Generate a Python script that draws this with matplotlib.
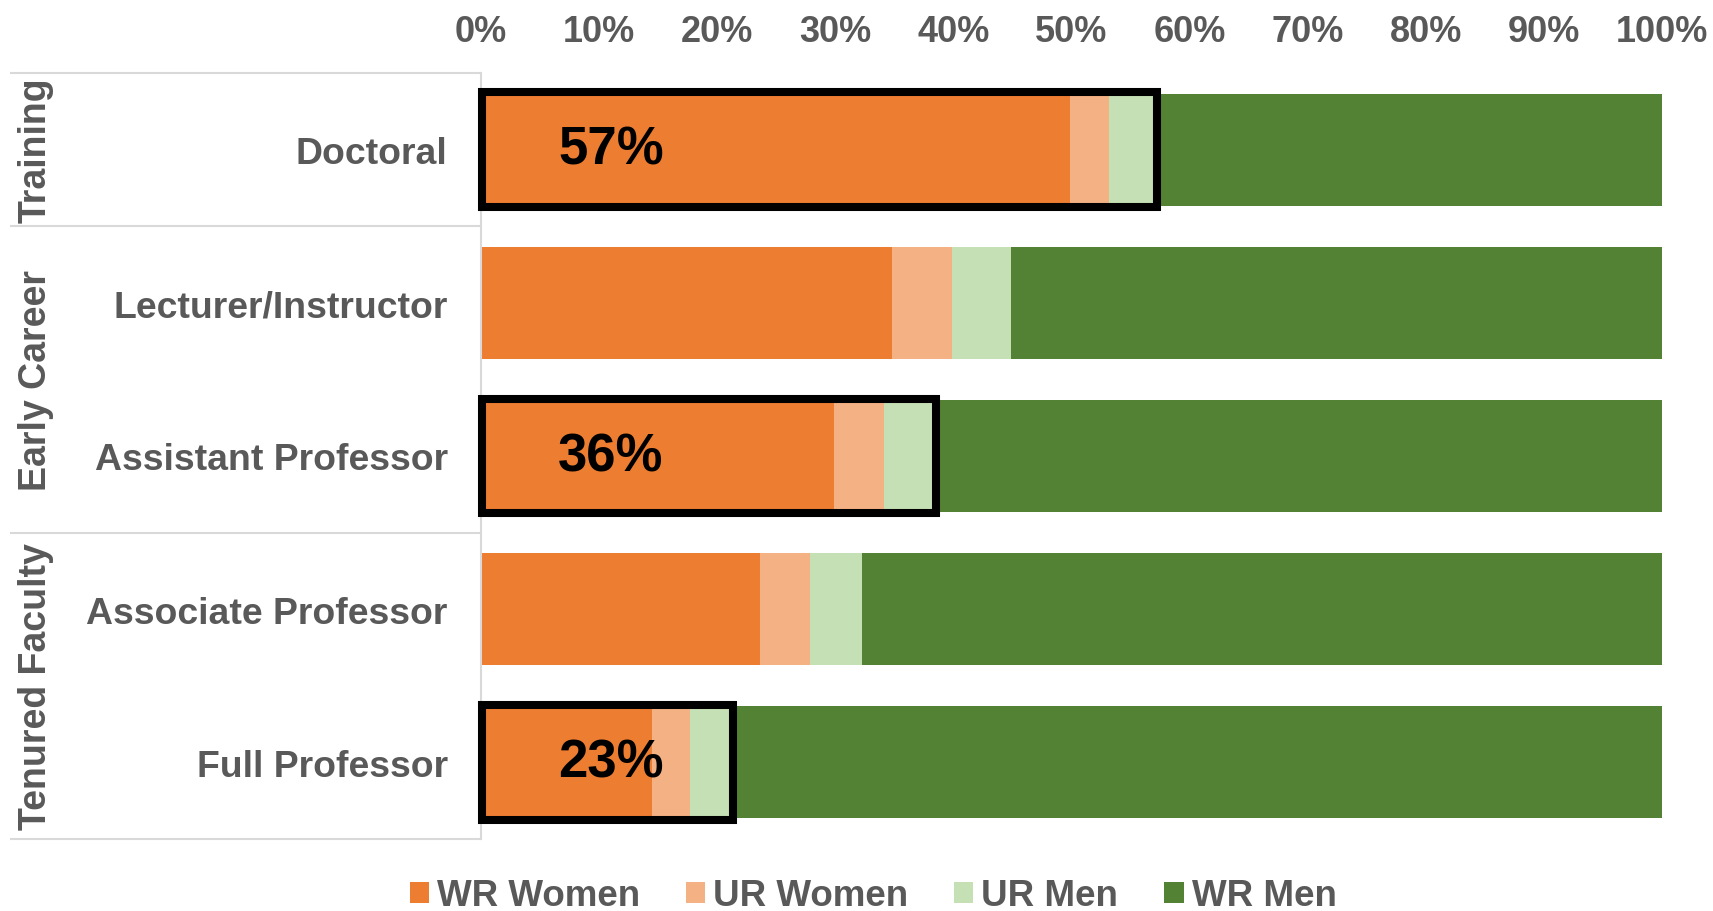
import matplotlib
matplotlib.use("Agg")
import matplotlib.pyplot as plt
from matplotlib.patches import Rectangle
from matplotlib.transforms import blended_transform_factory

# ---- data ----
categories = ["Doctoral", "Lecturer/Instructor", "Assistant Professor",
              "Associate Professor", "Full Professor"]
series_names = ["WR Women", "UR Women", "UR Men", "WR Men"]
wr_women = [49.9, 34.8, 29.9, 23.6, 14.5]
ur_women = [3.3, 5.1, 4.2, 4.3, 3.2]
ur_men = [4.0, 5.0, 4.4, 4.4, 3.6]
wr_men = [42.8, 55.1, 61.5, 67.7, 78.7]
highlight_labels = ["57%", None, "36%", None, "23%"]
groups = ["Training", "Early Career", "Tenured Faculty"]
group_rows = [(0, 0), (1, 2), (3, 4)]
xticks = [0, 10, 20, 30, 40, 50, 60, 70, 80, 90, 100]
xtick_labels = [f"{t}%" for t in xticks]

colors = ["#ED7D31", "#F4B183", "#C5E0B4", "#548235"]
gray_text = "#595959"
line_gray = "#D9D9D9"

plt.rcParams['font.family'] = ['Liberation Sans', 'DejaVu Sans']

W, H = 1713, 912
fig = plt.figure(figsize=(W / 100, H / 100), dpi=100)
ax = fig.add_axes([481 / W, 1 - 840 / H, (1662 - 481) / W, (840 - 74) / H])

ypos = list(range(len(categories)))
bar_h = 0.73
series = [wr_women, ur_women, ur_men, wr_men]
left = [0.0] * len(categories)
handles = []
for vals, col, name in zip(series, colors, series_names):
    b = ax.barh(ypos, vals, left=left, height=bar_h, color=col, label=name,
                edgecolor="none")
    handles.append(b)
    left = [l + v for l, v in zip(left, vals)]

ax.set_xlim(0, 100)
ax.set_ylim(len(categories) - 0.5, -0.5)

# highlight boxes and labels
for i, lab in enumerate(highlight_labels):
    if lab is None:
        continue
    cum = wr_women[i] + ur_women[i] + ur_men[i]
    rect = Rectangle((0.05, i - bar_h / 2 - 0.01), cum, bar_h + 0.02,
                     fill=False, edgecolor="black", linewidth=5.8,
                     clip_on=False, zorder=5)
    ax.add_patch(rect)
    ax.text(11, i, lab, ha="center", va="center", fontsize=38,
            fontweight="bold", color="black", zorder=6)

# ticks
ax.xaxis.tick_top()
ax.set_xticks(xticks)
ax.set_xticklabels(xtick_labels)
ax.tick_params(axis="x", length=0, pad=17, labelsize=26,
               labelcolor=gray_text)
for t in ax.get_xticklabels():
    t.set_fontweight("bold")
ax.set_yticks(ypos)
ax.set_yticklabels(categories)
ax.tick_params(axis="y", length=0, pad=24, labelsize=26.9,
               labelcolor=gray_text)
for t in ax.get_yticklabels():
    t.set_fontweight("bold")

for s in ["top", "right", "bottom"]:
    ax.spines[s].set_visible(False)
ax.spines["left"].set_color(line_gray)
ax.spines["left"].set_linewidth(1.5)

# group table lines and labels
tr = blended_transform_factory(fig.transFigure, ax.transData)
x0, x1 = 10 / W, 481 / W
bounds = [-0.5] + [g[1] + 0.5 for g in group_rows]
for yb in bounds:
    ax.plot([x0, x1], [yb, yb], transform=tr, color=line_gray, lw=1.5,
            clip_on=False, solid_capstyle="butt")
for name, (a, b) in zip(groups, group_rows):
    ax.text(36 / W, (a + b) / 2, name, transform=tr, rotation=90,
            ha="center", va="center", fontsize=27, fontweight="bold",
            color=gray_text)

# legend
leg = fig.legend(handles=handles, labels=series_names, loc="center",
                 bbox_to_anchor=(873 / W, 1 - 897 / H), ncol=4,
                 frameon=False, handlelength=0.52, handleheight=0.52,
                 handletextpad=0.22, columnspacing=1.25,
                 prop={"size": 26.5, "weight": "bold"})
for t in leg.get_texts():
    t.set_color(gray_text)

fig.savefig("out.png", dpi=100)
